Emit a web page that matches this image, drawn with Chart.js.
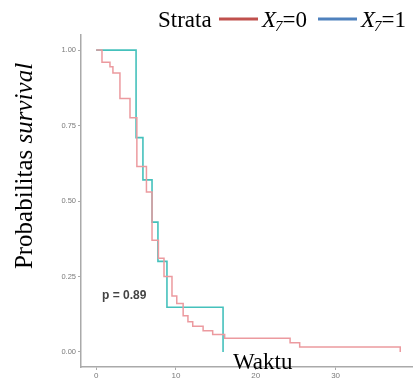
<!DOCTYPE html>
<html>
<head>
<meta charset="utf-8">
<script src="https://cdn.jsdelivr.net/npm/chart.js@4.4.1/dist/chart.umd.min.js"></script>
<style>
  html, body { margin: 0; padding: 0; background: #ffffff; }
  #wadah { width: 413px; height: 378px; }
</style>
</head>
<body>
<div id="wadah"><canvas id="grafikSurvival"></canvas></div>
<script>
// Data kurva Kaplan-Meier
const waktuX0 = [0, 0.73, 1.73, 2.1, 2.98, 4.24, 5.1, 6.3, 7.0, 7.8, 8.5, 9.5, 10.1, 10.9, 11.5, 12.1, 13.4, 14.6, 16.1, 24.3, 25.5, 38.1];
const survX0 = [1, 0.96, 0.945, 0.924, 0.84, 0.776, 0.614, 0.53, 0.37, 0.31, 0.25, 0.185, 0.16, 0.12, 0.10, 0.085, 0.07, 0.058, 0.045, 0.03, 0.016, 0];
const waktuX1 = [0, 5.0, 5.86, 7.0, 7.74, 8.87, 15.9];
const survX1 = [1, 0.71, 0.57, 0.43, 0.30, 0.148, 0];
const labelStrata = ['X7=0', 'X7=1'];
const tickWaktu = [0, 10, 20, 30];
const tickProb = [0, 0.25, 0.5, 0.75, 1];
const teksP = 'p = 0.89';

// Plugin untuk teks: legenda, judul sumbu dan nilai p
const teksTambahan = {
    id: 'teksTambahan',
    afterDraw(chart) {
        const ctx = chart.ctx;
        ctx.save();
        ctx.fillStyle = '#000';
        ctx.textBaseline = 'alphabetic';

        // legenda atas
        ctx.font = '23px "Liberation Serif"';
        ctx.fillText('Strata', 158, 27);
        gambarItemLegenda(ctx, 219, '#C0504D', '0');
        gambarItemLegenda(ctx, 318, '#4F81BD', '1');

        // judul sumbu x
        ctx.font = '23px "Liberation Serif"';
        ctx.fillText('Waktu', 233, 369);

        // judul sumbu y (diputar)
        ctx.save();
        ctx.translate(32, 166);
        ctx.rotate(-Math.PI / 2);
        ctx.font = '25px "Liberation Serif"';
        const a = 'Probabilitas ';
        ctx.font = '25px "Liberation Serif"';
        const wa = ctx.measureText(a).width;
        ctx.font = 'italic 25px "Liberation Serif"';
        const wb = ctx.measureText('survival').width;
        const mulai = -(wa + wb) / 2;
        ctx.font = '25px "Liberation Serif"';
        ctx.fillText(a, mulai, 0);
        ctx.font = 'italic 25px "Liberation Serif"';
        ctx.fillText('survival', mulai + wa, 0);
        ctx.restore();

        // nilai p
        ctx.font = 'bold 12px "Liberation Sans"';
        ctx.fillStyle = '#444';
        ctx.fillText(teksP, 102, 299);
        ctx.restore();
    }
};

function gambarItemLegenda(ctx, x, warna, nilai) {
    ctx.strokeStyle = warna;
    ctx.lineWidth = 3;
    ctx.beginPath();
    ctx.moveTo(x, 19);
    ctx.lineTo(x + 39, 19);
    ctx.stroke();
    let px = x + 43;
    ctx.fillStyle = '#000';
    ctx.font = 'italic 23px "Liberation Serif"';
    ctx.fillText('X', px, 27);
    px += ctx.measureText('X').width - 1;
    ctx.font = 'italic 15px "Liberation Serif"';
    ctx.fillText('7', px, 31);
    px += ctx.measureText('7').width;
    ctx.font = '23px "Liberation Serif"';
    ctx.fillText('=' + nilai, px, 27);
}

function buatTitik(waktu, surv) {
    let titik = [];
    for (let i = 0; i < waktu.length; i++) {
        titik.push({ x: waktu[i], y: surv[i] });
    }
    return titik;
}

const config = {
    type: 'scatter',
    data: {
        datasets: [
            {
                label: labelStrata[0],
                data: buatTitik(waktuX0, survX0),
                showLine: true,
                stepped: 'before',
                borderColor: '#EC9A9F',
                borderWidth: 1.5,
                pointRadius: 0
            },
            {
                label: labelStrata[1],
                data: buatTitik(waktuX1, survX1),
                showLine: true,
                stepped: 'before',
                borderColor: '#45C1BC',
                borderWidth: 1.6,
                pointRadius: 0
            }
        ]
    },
    options: {
        responsive: true,
        maintainAspectRatio: false,
        animation: false,
        layout: { padding: { top: 35, left: 0, right: 0, bottom: 0 } },
        plugins: {
            legend: { display: false },
            tooltip: { enabled: false }
        },
        scales: {
            x: {
                type: 'linear',
                min: -1.9,
                max: 39.7,
                afterBuildTicks: function (s) { s.ticks = tickWaktu.map(v => ({ value: v })); },
                afterFit: function (s) { s.height = 11; },
                ticks: { font: { family: 'Liberation Sans', size: 8 }, color: '#7a7a7a', padding: 1 },
                grid: { drawOnChartArea: false, tickLength: 3, color: '#aaaaaa' },
                border: { color: '#aaaaaa', width: 1.5 }
            },
            y: {
                min: -0.05,
                max: 1.05,
                afterBuildTicks: function (s) { s.ticks = tickProb.map(v => ({ value: v })); },
                afterFit: function (s) { s.width = 81; },
                ticks: {
                    font: { family: 'Liberation Sans', size: 7.5 },
                    color: '#7a7a7a',
                    padding: 2,
                    callback: function (v) { return v.toFixed(2); }
                },
                grid: { drawOnChartArea: false, tickLength: 3, color: '#aaaaaa' },
                border: { color: '#aaaaaa', width: 1.5 }
            }
        }
    },
    plugins: [teksTambahan]
};

new Chart(document.getElementById('grafikSurvival'), config);
</script>
</body>
</html>
